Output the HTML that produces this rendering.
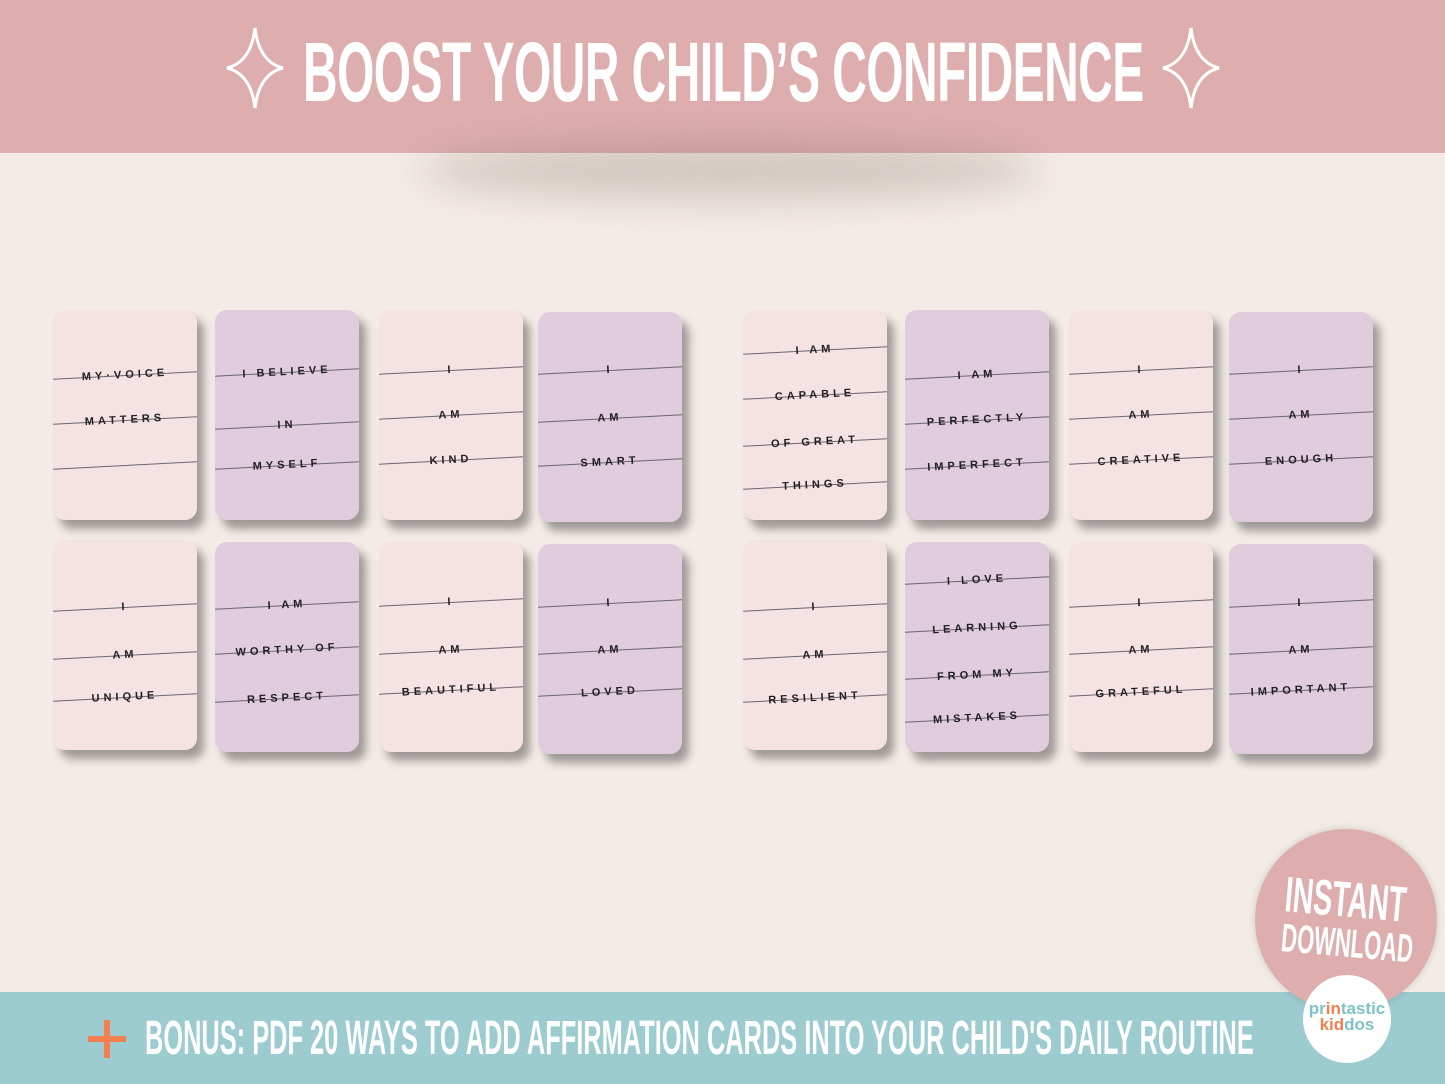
<!DOCTYPE html>
<html><head><meta charset="utf-8"><style>
*{margin:0;padding:0;box-sizing:border-box}
body{width:1445px;height:1084px;overflow:hidden;background:#f3ebe6;position:relative;font-family:"Liberation Sans",sans-serif}
.hdr{position:absolute;left:0;top:0;width:1445px;height:153px;background:#deaeae}
.shadow{position:absolute;left:420px;top:140px;width:620px;height:60px;border-radius:50%;background:rgba(120,100,90,.25);filter:blur(18px)}
.title{position:absolute;left:303px;top:24px;color:#fff;font:bold 84px "Liberation Sans",sans-serif;white-space:nowrap;transform-origin:0 0;transform:scaleX(0.571);letter-spacing:-1px}
.ftr{position:absolute;left:0;top:992px;width:1445px;height:92px;background:#9ccbd0}
.ftxt{position:absolute;left:145px;top:1011px;color:#fff;font:bold 48px "Liberation Sans",sans-serif;white-space:nowrap;transform-origin:0 0;transform:scaleX(0.529)}
.card{position:absolute;width:144px;height:210px;border-radius:12px;box-shadow:7px 9px 9px rgba(0,0,0,.35);overflow:hidden}
.p{background:#f5e3e3}.v{background:#e0ccdc}
.ln{position:absolute;left:0;width:144px;height:18px;transform:rotate(-3deg)}
.ln:before{content:"";position:absolute;left:0;right:0;top:9px;border-top:1px solid #6d6470}
.ln span{position:relative;display:block;text-align:center;font-size:11px;font-weight:bold;letter-spacing:4px;color:#222;line-height:18px}
.badge{position:absolute;left:1255px;top:829px;width:182px;height:182px;border-radius:50%;background:#deaeae;box-shadow:0 0 8px rgba(0,0,0,.15)}
.btxt{position:absolute;left:1283px;top:878px;width:135px;height:90px;transform:rotate(5deg)}
.btxt div{color:#fff;font:bold 50px "Liberation Sans",sans-serif;white-space:nowrap;transform-origin:0 0;line-height:44px}
.logo{position:absolute;left:1303px;top:975px;width:88px;height:88px;border-radius:50%;background:#fff;text-align:center;font:bold 17px "Liberation Sans",sans-serif;line-height:16px;padding-top:26px}
</style></head><body>
<div class="hdr"></div>
<div class="shadow"></div>
<svg style="position:absolute;left:0;top:0" width="1445" height="153">
<path d="M255 28 Q259 62 283 68 Q259 74 255 108 Q251 74 227 68 Q251 62 255 28Z" fill="none" stroke="#fff" stroke-width="3"/>
<path d="M1191 28 Q1195 62 1219 68 Q1195 74 1191 108 Q1187 74 1163 68 Q1187 62 1191 28Z" fill="none" stroke="#fff" stroke-width="3"/>
</svg>
<div class="title">BOOST YOUR CHILD’S CONFIDENCE</div>

<div class="card p" style="left:53px;top:310px"><div class="ln" style="top:56px"><span>MY·VOICE</span></div><div class="ln" style="top:101px"><span>MATTERS</span></div><div class="ln" style="top:146px"><span>&nbsp;</span></div></div>
<div class="card v" style="left:215px;top:310px"><div class="ln" style="top:53px"><span>I BELIEVE</span></div><div class="ln" style="top:106px"><span>IN</span></div><div class="ln" style="top:146px"><span>MYSELF</span></div></div>
<div class="card p" style="left:379px;top:310px"><div class="ln" style="top:51px"><span>I</span></div><div class="ln" style="top:96px"><span>AM</span></div><div class="ln" style="top:141px"><span>KIND</span></div></div>
<div class="card v" style="left:538px;top:312px"><div class="ln" style="top:49px"><span>I</span></div><div class="ln" style="top:97px"><span>AM</span></div><div class="ln" style="top:141px"><span>SMART</span></div></div>
<div class="card p" style="left:743px;top:310px"><div class="ln" style="top:31px"><span>I AM</span></div><div class="ln" style="top:76px"><span>CAPABLE</span></div><div class="ln" style="top:123px"><span>OF GREAT</span></div><div class="ln" style="top:166px"><span>THINGS</span></div></div>
<div class="card v" style="left:905px;top:310px"><div class="ln" style="top:56px"><span>I AM</span></div><div class="ln" style="top:101px"><span>PERFECTLY</span></div><div class="ln" style="top:146px"><span>IMPERFECT</span></div></div>
<div class="card p" style="left:1069px;top:310px"><div class="ln" style="top:51px"><span>I</span></div><div class="ln" style="top:96px"><span>AM</span></div><div class="ln" style="top:141px"><span>CREATIVE</span></div></div>
<div class="card v" style="left:1229px;top:312px"><div class="ln" style="top:49px"><span>I</span></div><div class="ln" style="top:94px"><span>AM</span></div><div class="ln" style="top:139px"><span>ENOUGH</span></div></div>

<div class="card p" style="left:53px;top:540px"><div class="ln" style="top:58px"><span>I</span></div><div class="ln" style="top:106px"><span>AM</span></div><div class="ln" style="top:148px"><span>UNIQUE</span></div></div>
<div class="card v" style="left:215px;top:542px"><div class="ln" style="top:54px"><span>I AM</span></div><div class="ln" style="top:99px"><span>WORTHY OF</span></div><div class="ln" style="top:147px"><span>RESPECT</span></div></div>
<div class="card p" style="left:379px;top:542px"><div class="ln" style="top:51px"><span>I</span></div><div class="ln" style="top:99px"><span>AM</span></div><div class="ln" style="top:139px"><span>BEAUTIFUL</span></div></div>
<div class="card v" style="left:538px;top:544px"><div class="ln" style="top:50px"><span>I</span></div><div class="ln" style="top:97px"><span>AM</span></div><div class="ln" style="top:139px"><span>LOVED</span></div></div>
<div class="card p" style="left:743px;top:540px"><div class="ln" style="top:58px"><span>I</span></div><div class="ln" style="top:106px"><span>AM</span></div><div class="ln" style="top:149px"><span>RESILIENT</span></div></div>
<div class="card v" style="left:905px;top:542px"><div class="ln" style="top:29px"><span>I LOVE</span></div><div class="ln" style="top:77px"><span>LEARNING</span></div><div class="ln" style="top:124px"><span>FROM MY</span></div><div class="ln" style="top:167px"><span>MISTAKES</span></div></div>
<div class="card p" style="left:1069px;top:542px"><div class="ln" style="top:52px"><span>I</span></div><div class="ln" style="top:99px"><span>AM</span></div><div class="ln" style="top:141px"><span>GRATEFUL</span></div></div>
<div class="card v" style="left:1229px;top:544px"><div class="ln" style="top:50px"><span>I</span></div><div class="ln" style="top:97px"><span>AM</span></div><div class="ln" style="top:137px"><span>IMPORTANT</span></div></div>

<div class="ftr"></div>
<svg style="position:absolute;left:88px;top:1020px" width="40" height="40"><rect x="16" y="0" width="6" height="38" fill="#f47f4f"/><rect x="0" y="16" width="38" height="6" fill="#f47f4f"/></svg>
<div class="ftxt">BONUS: PDF 20 WAYS TO ADD AFFIRMATION CARDS INTO YOUR CHILD'S DAILY ROUTINE</div>
<div class="badge"></div>
<div class="btxt"><div style="transform:scaleX(0.57)">INSTANT</div><div style="font-size:40px;transform:scaleX(0.55)">DOWNLOAD</div></div>
<div class="logo"><span style="color:#7cc4c9">pr</span><span style="color:#f47f4f">in</span><span style="color:#7cc4c9">tastic</span><br><span style="color:#f47f4f">kid</span><span style="color:#7cc4c9">dos</span></div>
</body></html>
